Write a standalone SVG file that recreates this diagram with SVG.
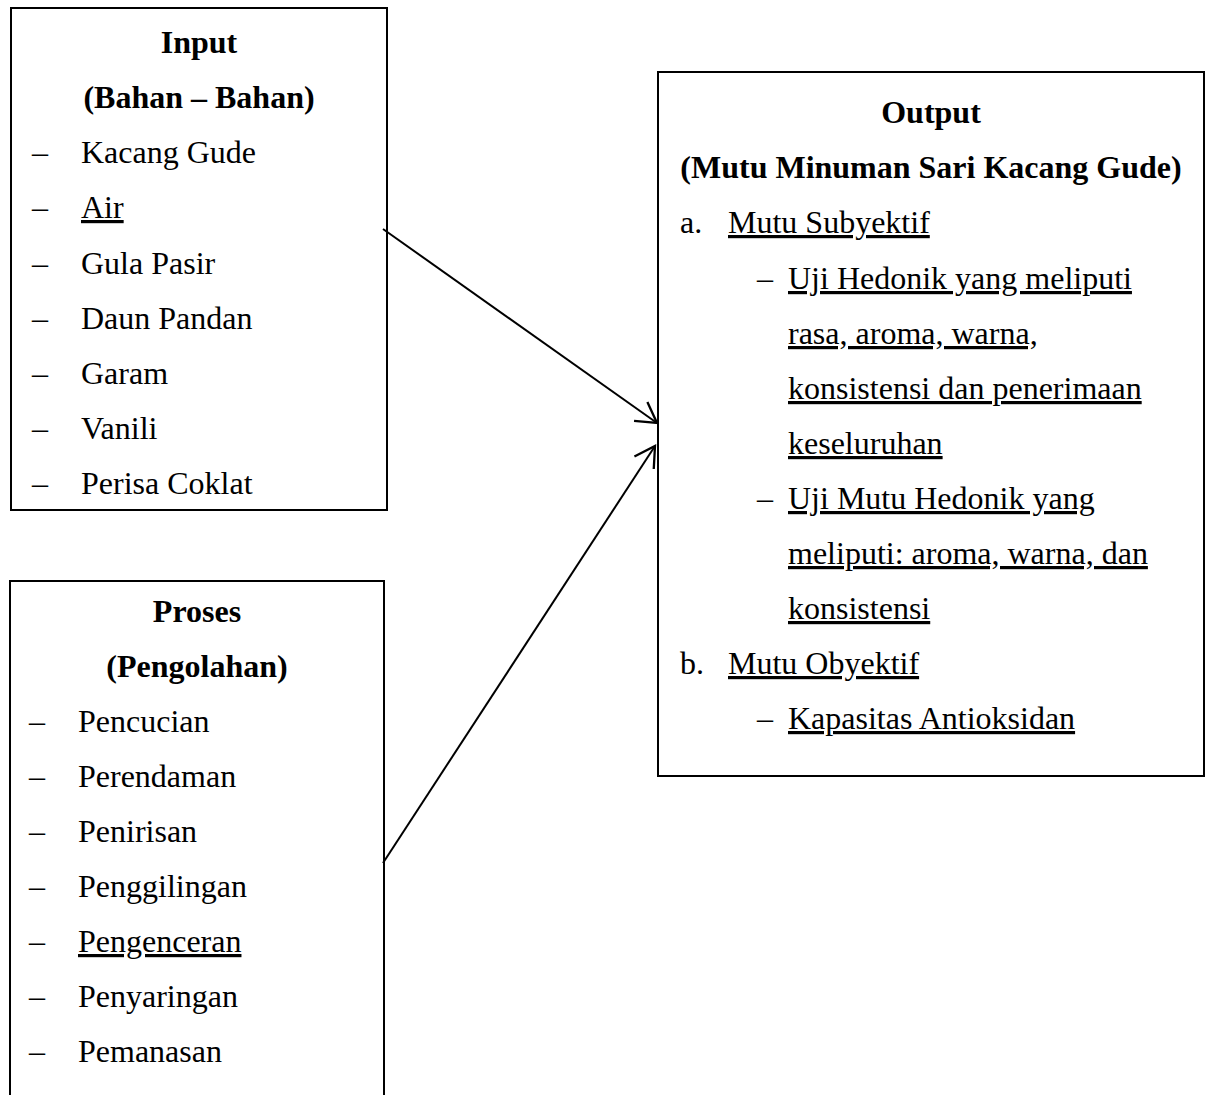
<svg xmlns="http://www.w3.org/2000/svg" width="1211" height="1095" viewBox="0 0 1211 1095">
<style>
.box{fill:#fff;stroke:#000;stroke-width:2}
text{font-family:"Liberation Serif","Times New Roman",serif;font-size:32px;fill:#000}
.h{font-weight:bold;text-anchor:middle}
.u{text-decoration:underline;text-decoration-skip-ink:none}
.con{stroke:#000;stroke-width:2;fill:none}
</style>
<defs>
<marker id="arr" markerUnits="userSpaceOnUse" markerWidth="30" markerHeight="30" viewBox="-22 -13 26 26" refX="0" refY="0" orient="auto">
<path d="M -17.3 -10 L 0 0 L -17.3 10" fill="none" stroke="#000" stroke-width="2"/>
</marker>
</defs>
<rect width="1211" height="1095" fill="#fff"/>
<g id="input">
<rect class="box" x="11" y="8" width="376" height="502"/>
<text class="h" x="199" y="53">Input</text>
<text class="h" x="199" y="108">(Bahan – Bahan)</text>
<text x="32" y="163">–</text><text x="81" y="163">Kacang Gude</text>
<text x="32" y="218">–</text><text class="u" x="81" y="218">Air</text>
<text x="32" y="274">–</text><text x="81" y="274">Gula Pasir</text>
<text x="32" y="329">–</text><text x="81" y="329">Daun Pandan</text>
<text x="32" y="384">–</text><text x="81" y="384">Garam</text>
<text x="32" y="439">–</text><text x="81" y="439">Vanili</text>
<text x="32" y="494">–</text><text x="81" y="494">Perisa Coklat</text>
</g>
<g id="proses">
<rect class="box" x="10" y="581" width="374" height="530"/>
<text class="h" x="197" y="622">Proses</text>
<text class="h" x="197" y="677">(Pengolahan)</text>
<text x="29" y="732">–</text><text x="78" y="732">Pencucian</text>
<text x="29" y="787">–</text><text x="78" y="787">Perendaman</text>
<text x="29" y="842">–</text><text x="78" y="842">Penirisan</text>
<text x="29" y="897">–</text><text x="78" y="897">Penggilingan</text>
<text x="29" y="952">–</text><text class="u" x="78" y="952">Pengenceran</text>
<text x="29" y="1007">–</text><text x="78" y="1007">Penyaringan</text>
<text x="29" y="1062">–</text><text x="78" y="1062">Pemanasan</text>
</g>
<g id="output">
<rect class="box" x="658" y="72" width="546" height="704"/>
<text class="h" x="931" y="123">Output</text>
<text class="h" x="931" y="178">(Mutu Minuman Sari Kacang Gude)</text>
<text x="680" y="233">a.</text><text class="u" x="728" y="233">Mutu Subyektif</text>
<text x="757" y="289">–</text><text class="u" x="788" y="289">Uji Hedonik yang meliputi</text>
<text class="u" x="788" y="344">rasa, aroma, warna,</text>
<text class="u" x="788" y="399">konsistensi dan penerimaan</text>
<text class="u" x="788" y="454">keseluruhan</text>
<text x="757" y="509">–</text><text class="u" x="788" y="509">Uji Mutu Hedonik yang</text>
<text class="u" x="788" y="564">meliputi: aroma, warna, dan</text>
<text class="u" x="788" y="619">konsistensi</text>
<text x="680" y="674">b.</text><text class="u" x="728" y="674">Mutu Obyektif</text>
<text x="757" y="729">–</text><text class="u" x="788" y="729">Kapasitas Antioksidan</text>
</g>
<g id="connectors">
<line class="con" x1="383" y1="229" x2="657" y2="423" marker-end="url(#arr)"/>
<line class="con" x1="383" y1="863" x2="655" y2="446" marker-end="url(#arr)"/>
</g>
</svg>
